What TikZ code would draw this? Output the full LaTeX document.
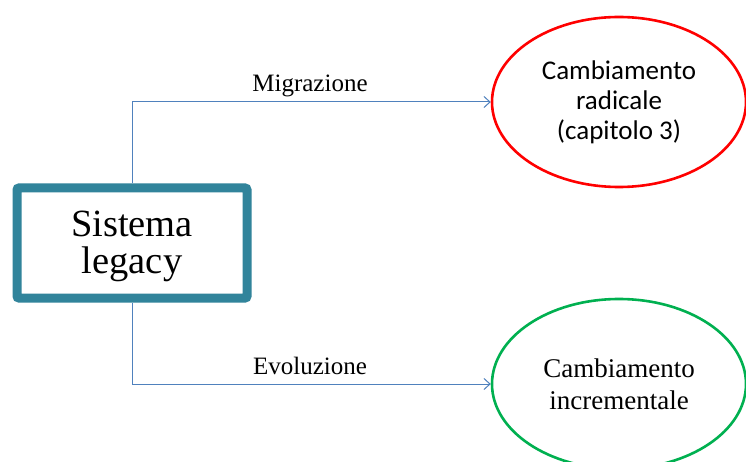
\documentclass[tikz,border=0pt]{standalone}
\usepackage{fontspec}
\setmainfont{Liberation Serif}
\newfontfamily\calibfont{Carlito}
\usetikzlibrary{shapes.geometric,arrows.meta}
\definecolor{boxteal}{HTML}{31849B}
\definecolor{linkblue}{HTML}{4F81BD}
\definecolor{ovalred}{HTML}{FF0000}
\definecolor{ovalgreen}{HTML}{00B050}
\tikzset{
  legacybox/.style={draw=boxteal, line width=9pt, rounded corners=2pt, fill=white,
    minimum width=230pt, minimum height=110pt, inner sep=0pt, align=center,
    font=\fontsize{38.5}{37}\selectfont},
  oval/.style={ellipse, line width=2.6pt, fill=white, minimum width=254pt,
    minimum height=170pt, inner sep=0pt, align=center},
  link/.style={draw=linkblue, line width=1pt, -{Straight Barb[length=6pt,width=11pt]}},
  linklabel/.style={font=\fontsize{25}{25}\selectfont, inner sep=0pt}
}
\begin{document}
\begin{tikzpicture}[x=1pt,y=-1pt]
  \useasboundingbox (0,0) rectangle (746,462);
  \clip (0,0) rectangle (746,462);
  \fill[white] (0,0) rectangle (746,462);

  % source system
  \node[legacybox] (legacy) at (132,243) {};
  \node[align=center, inner sep=0pt, font=\fontsize{38.5}{37}\selectfont]
    (legacytext) at (132,246) {Sistema\\legacy};

  % the two kinds of change
  \node[oval, draw=ovalred, font=\calibfont\fontsize{27}{30}\selectfont]
    (radical) at (619,102) {Cambiamento\\radicale\\(capitolo 3)};
  \node[oval, draw=ovalgreen, font=\fontsize{27}{32}\selectfont]
    (incremental) at (619,384) {Cambiamento\\incrementale};

  % connectors
  \draw[link] (legacy.north) |- (radical.west);
  \draw[link] (legacy.south) |- (incremental.west);

  % connector labels
  \node[linklabel] (lblmig) at (310,86) {Migrazione};
  \node[linklabel] (lblevo) at (310,366) {Evoluzione};
\end{tikzpicture}
\end{document}
